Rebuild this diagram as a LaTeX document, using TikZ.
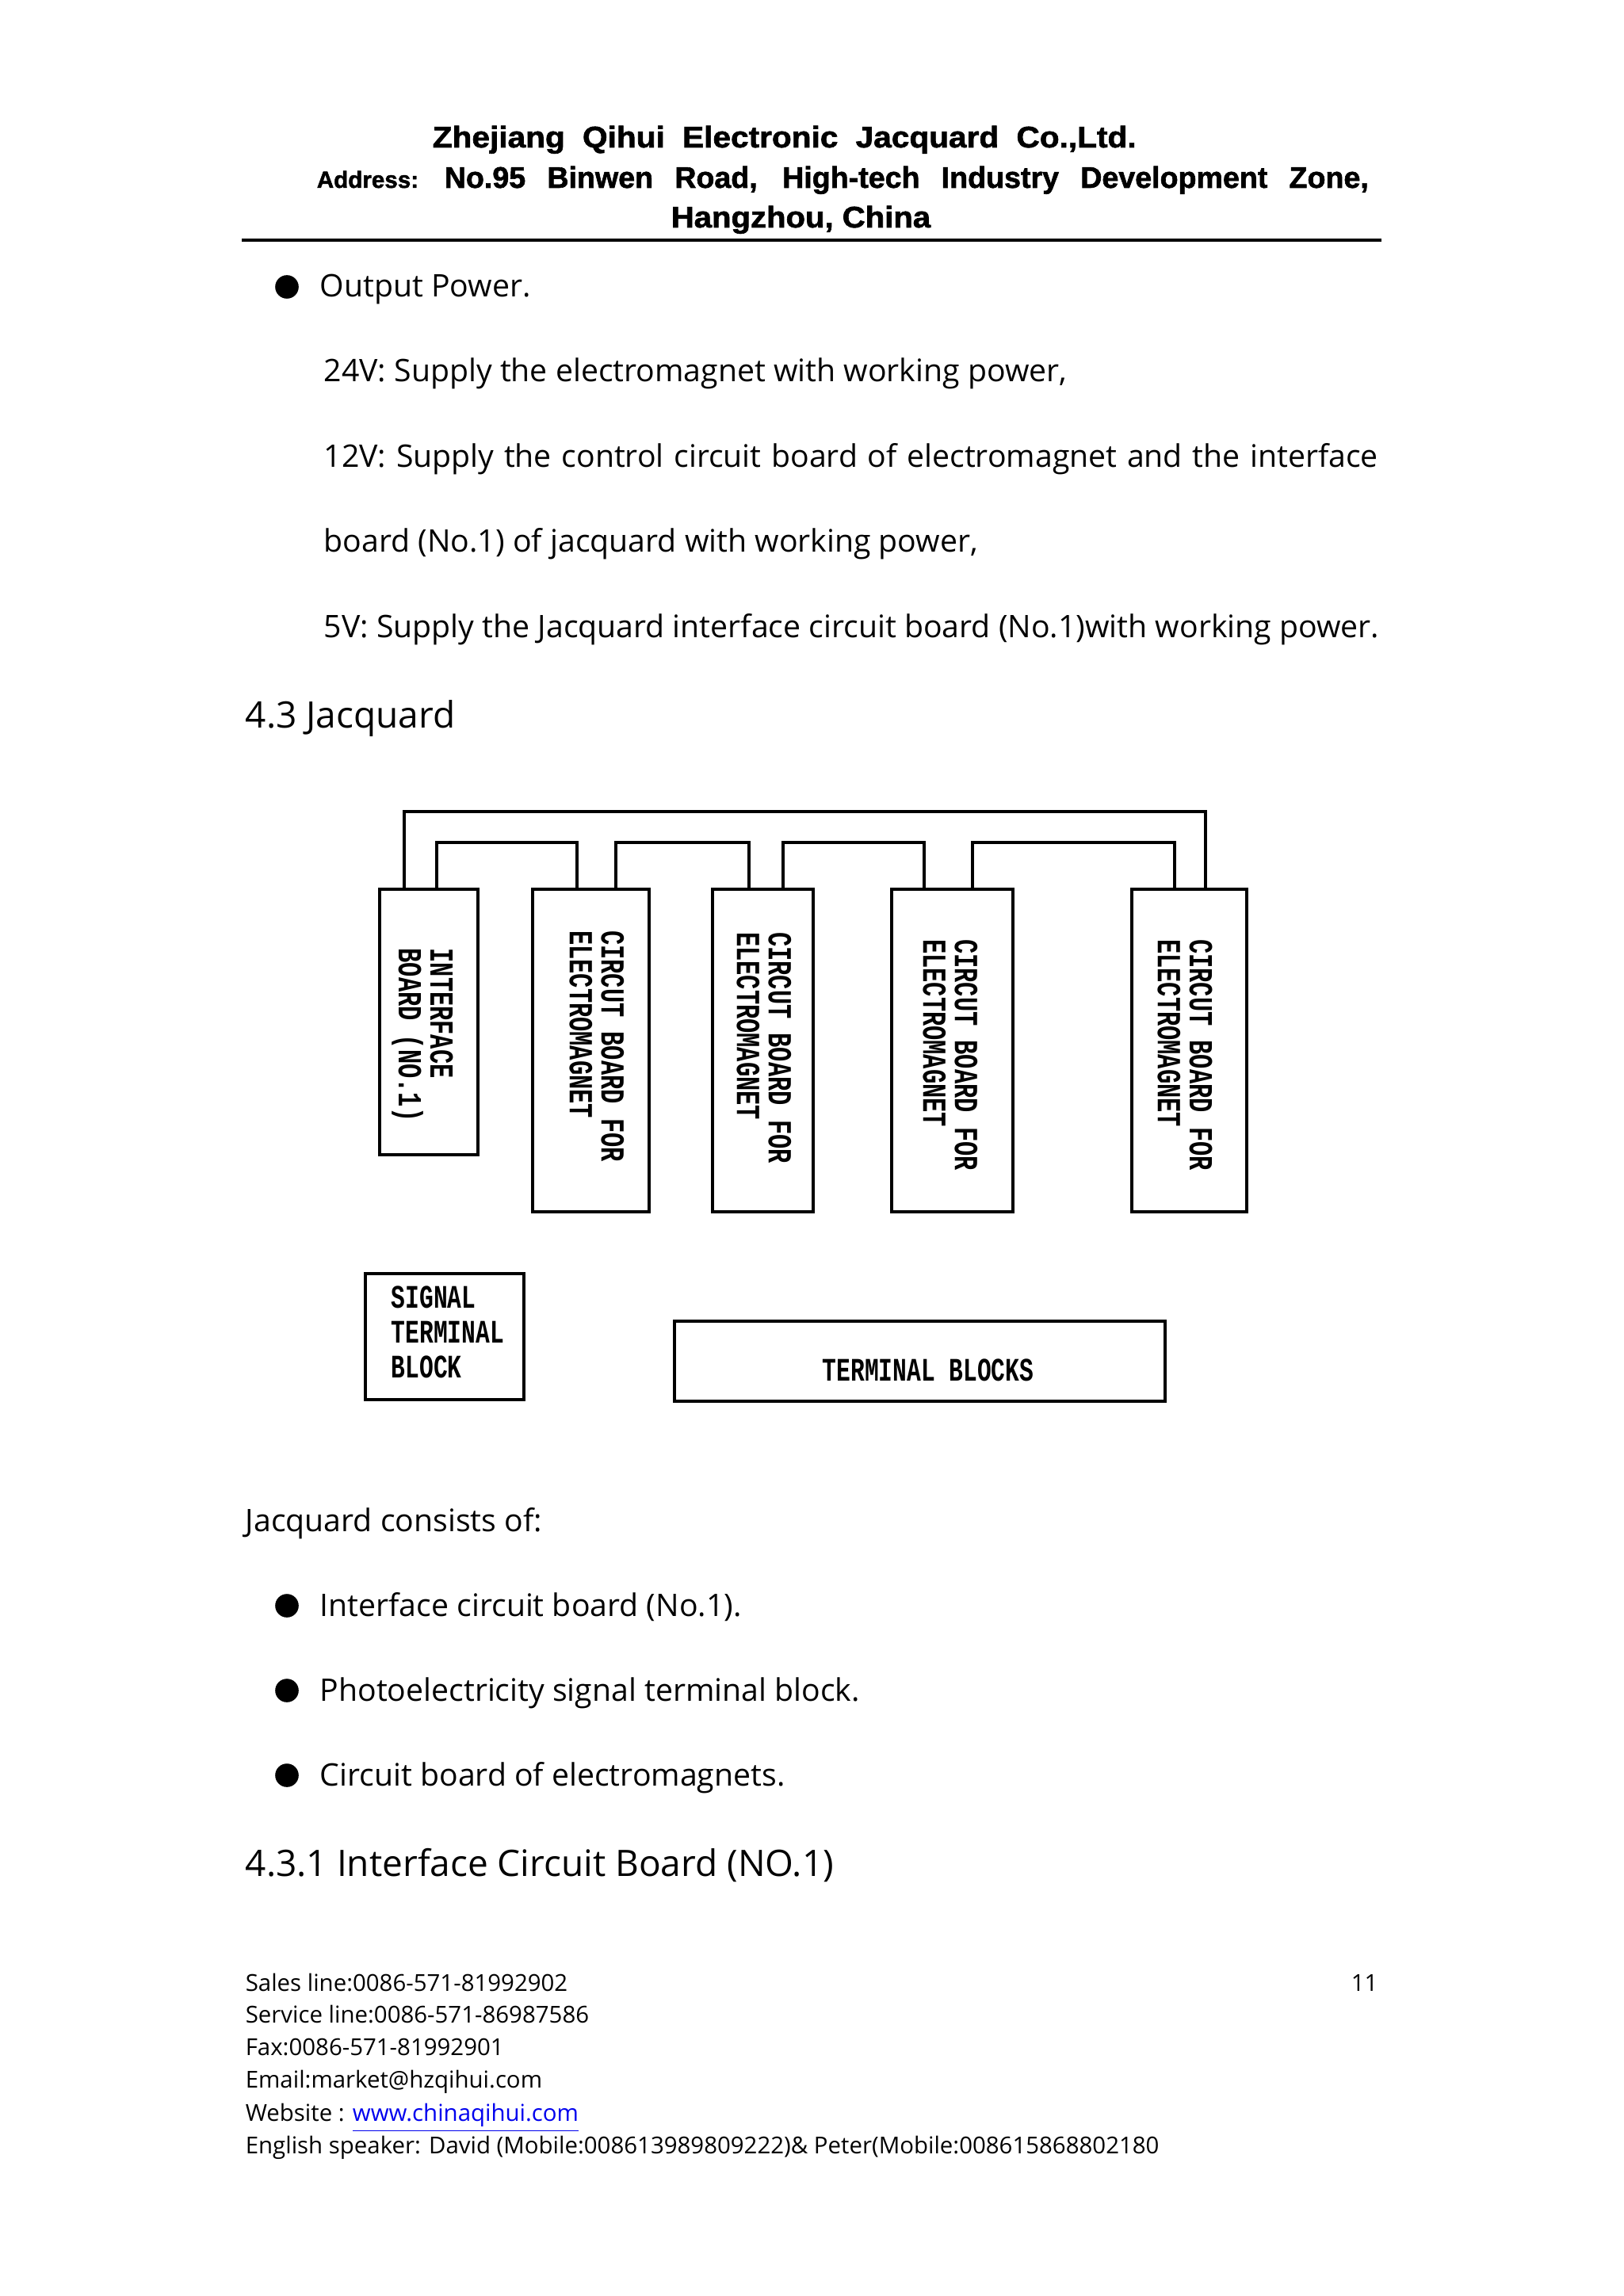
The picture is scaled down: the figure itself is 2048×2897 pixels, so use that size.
\documentclass[tikz,border=0pt]{standalone}
\usepackage{fontspec}
\setmainfont{Open Sans}
\newfontfamily\hdrfont[BoldFeatures={FakeBold=1.6}]{Liberation Sans}
\newfontfamily\monof{Liberation Mono}
\usetikzlibrary{calc}
\definecolor{linkblue}{RGB}{0,0,238}
\begin{document}
\begin{tikzpicture}[x=0.25pt,y=-0.25pt,
  txt/.style={anchor=base west, inner sep=0, font=\fontsize{9.8}{12}\selectfont},
  hd/.style={anchor=base west, inner sep=0, font=\fontsize{11.5}{14}\selectfont},
  foot/.style={anchor=base west, inner sep=0, font=\fontsize{7.35}{9}\selectfont},
  hdr/.style={anchor=base west, inner sep=0, font=\hdrfont\bfseries\fontsize{9.4}{11}\selectfont},
  box/.style={draw, line width=0.9pt, inner sep=0, minimum height=#1},
  lbl/.style={inner sep=0, align=left, font=\monof\bfseries\fontsize{7.6}{10}\selectfont},
  wire/.style={line width=0.9pt}]
\useasboundingbox (0,0) rectangle (2048,2897);
\fill[white] (0,0) rectangle (2048,2897);

% header
\node[hdr] (h1) at (545,186) {\scalebox{1.08}[1]{\makebox[205.5pt][s]{Zhejiang Qihui Electronic Jacquard Co.,Ltd.}}};
\node[hdr, font=\hdrfont\bfseries\fontsize{7.4}{9}\selectfont] (h2a) at (399,237) {Address:};
\node[hdr] (h2) at (560,237) {\makebox[291.5pt][s]{No.95 Binwen Road, High-tech Industry Development Zone,}};
\node[hdr] (h3) at (846,287) {\scalebox{1.066}[1]{Hangzhou, China}};
\draw[line width=0.8pt] (305,303) -- (1743,303);

% body top
\fill (362,362) circle[radius=3.7pt];
\node[txt] (t1) at (403,375) {Output Power.};
\node[txt] (t2) at (408,482) {24V: Supply the electromagnet with working power,};
\node[txt] (t3) at (408,590) {\makebox[332.5pt][s]{12V: Supply the control circuit board of electromagnet and the interface}};
\node[txt] (t4) at (408,697) {board (No.1) of jacquard with working power,};
\node[txt] (t5) at (408,804) {5V: Supply the Jacquard interface circuit board (No.1)with working power.};
\node[hd] (h43) at (309,918) {4.3 Jacquard};

% diagram boxes
\node[box=83.75pt, minimum width=31pt] (ib) at (541,1289.5) {};
\node[box=101.75pt, minimum width=36.75pt] (c1) at (745.5,1325.5) {};
\node[box=101.75pt, minimum width=31.75pt] (c2) at (962.5,1325.5) {};
\node[box=101.75pt, minimum width=38.25pt] (c3) at (1201.5,1325.5) {};
\node[box=101.75pt, minimum width=36.25pt] (c4) at (1500.5,1325.5) {};
\node[box=39.75pt, minimum width=50pt] (sig) at (561,1686.5) {};
\node[box=25.25pt, minimum width=154.75pt] (tb) at (1160.5,1717.5) {};

% box labels
\node[lbl, rotate=-90] (ibl) at (533,1306) {\scalebox{1}[1.4]{INTERFACE}\\\scalebox{1}[1.4]{BOARD (NO.1)}};
\node[lbl, rotate=-90] (c1l) at (753,1320) {\scalebox{1}[1.4]{CIRCUT BOARD FOR}\\\scalebox{1}[1.4]{ELECTROMAGNET}};
\node[lbl, rotate=-90] (c2l) at (964,1322) {\scalebox{1}[1.4]{CIRCUT BOARD FOR}\\\scalebox{1}[1.4]{ELECTROMAGNET}};
\node[lbl, rotate=-90] (c3l) at (1199,1331) {\scalebox{1}[1.4]{CIRCUT BOARD FOR}\\\scalebox{1}[1.4]{ELECTROMAGNET}};
\node[lbl, rotate=-90] (c4l) at (1495,1331) {\scalebox{1}[1.4]{CIRCUT BOARD FOR}\\\scalebox{1}[1.4]{ELECTROMAGNET}};
\node[lbl, anchor=base west, font=\monof\bfseries\fontsize{7.4}{11}\selectfont] (sigl) at (493,1738) {\scalebox{1}[1.4]{SIGNAL}\\\scalebox{1}[1.4]{TERMINAL}\\\scalebox{1}[1.4]{BLOCK}};
\node[lbl, anchor=base west, font=\monof\bfseries\fontsize{7.4}{11}\selectfont] (tbl) at (1037,1742) {\scalebox{1}[1.4]{TERMINAL BLOCKS}};

% connectors
\draw[wire] (ib.north -| 510,0) -- (510,1024) -- (1521,1024) -- (c4.north -| 1521,0);
\draw[wire] (ib.north -| 551,0) -- (551,1063) -- (728,1063) -- (c1.north -| 728,0);
\draw[wire] (c1.north -| 777,0) -- (777,1063) -- (945,1063) -- (c2.north -| 945,0);
\draw[wire] (c2.north -| 988,0) -- (988,1063) -- (1166,1063) -- (c3.north -| 1166,0);
\draw[wire] (c3.north -| 1227,0) -- (1227,1063) -- (1482,1063) -- (c4.north -| 1482,0);

% body bottom
\node[txt] (t6) at (309,1932) {Jacquard consists of:};
\fill (362,2026) circle[radius=3.7pt];
\node[txt] (b1) at (403,2039) {Interface circuit board (No.1).};
\fill (362,2133) circle[radius=3.7pt];
\node[txt] (b2) at (403,2146) {Photoelectricity signal terminal block.};
\fill (362,2240) circle[radius=3.7pt];
\node[txt] (b3) at (403,2253) {Circuit board of electromagnets.};
\node[hd] (h431) at (309,2367) {4.3.1 Interface Circuit Board (NO.1)};

% footer
\node[foot] (f1) at (309,2512) {Sales line:0086-571-81992902};
\node[foot] (pg) at (1704,2512) {11};
\node[foot] (f2) at (309,2552) {Service line:0086-571-86987586};
\node[foot] (f3) at (309,2593) {Fax:0086-571-81992901};
\node[foot] (f4) at (309,2634) {Email:market@hzqihui.com};
\node[foot] (f5) at (309,2676) {Website : {\color{linkblue}\underline{www.chinaqihui.com}}};
\node[foot] (f6) at (309,2717) {English speaker: David (Mobile:008613989809222)\& Peter(Mobile:008615868802180};
\end{tikzpicture}
\end{document}
